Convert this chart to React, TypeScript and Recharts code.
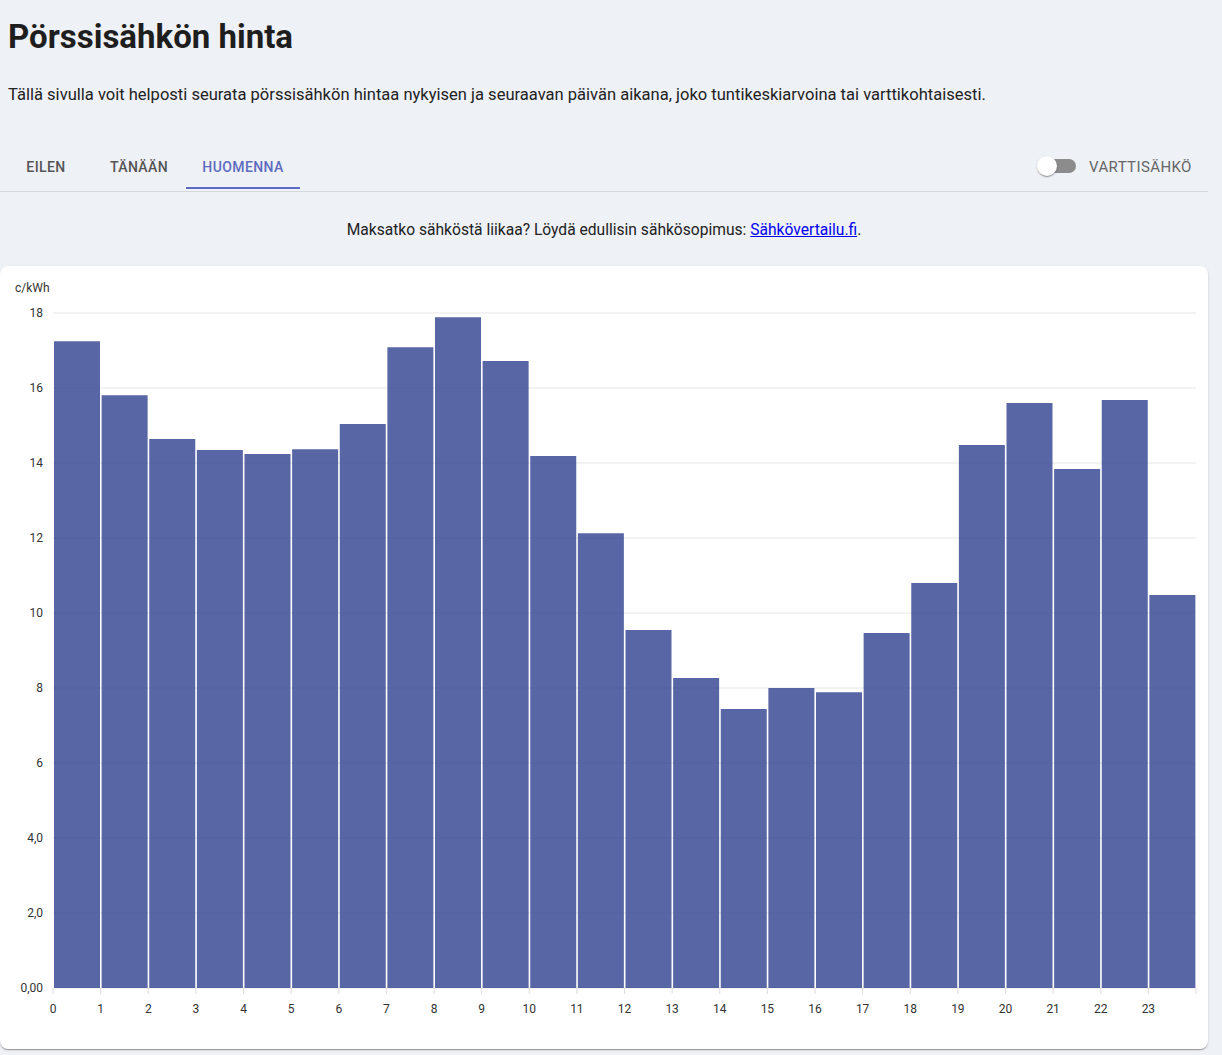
import { BarChart, Bar, XAxis, YAxis, CartesianGrid } from "recharts";

const hours = [0, 1, 2, 3, 4, 5, 6, 7, 8, 9, 10, 11, 12, 13, 14, 15, 16, 17, 18, 19, 20, 21, 22, 23];
const prices = [17.25, 15.81, 14.64, 14.35, 14.24, 14.37, 15.04, 17.09, 17.89, 16.72, 14.19, 12.13, 9.55, 8.27, 7.44, 8.0, 7.89, 9.47, 10.8, 14.48, 15.6, 13.84, 15.68, 10.48];
const yTicks = [0, 2, 4, 6, 8, 10, 12, 14, 16, 18];
const xTicks = [0, 1, 2, 3, 4, 5, 6, 7, 8, 9, 10, 11, 12, 13, 14, 15, 16, 17, 18, 19, 20, 21, 22, 23, 24];
const tabs = ["EILEN", "TÄNÄÄN", "HUOMENNA"];

// each hourly bar sits in the middle of its hour slot
const data = hours.map((h, i) => ({ hour: h, mid: h + 0.5, price: prices[i] }));

const formatY = (v: number) => {
  if (v === 0) return "0,00";
  if (v < 6) return v.toFixed(1).replace(".", ",");
  return String(v);
};

const tabWidths = [92, 94, 114];
const shadow = "0 2px 1px -1px rgba(0,0,0,0.2), 0 1px 1px 0 rgba(0,0,0,0.14), 0 1px 3px 0 rgba(0,0,0,0.12)";

export default function App() {
  return (
    <div
      style={{
        position: "relative",
        width: 1222,
        height: 1055,
        background: "#eef1f6",
        fontFamily: "Roboto, sans-serif",
        overflow: "hidden",
      }}
    >
      <style>{`body{margin:0}`}</style>
      <div
        style={{
          position: "absolute",
          left: 8,
          top: 20,
          fontSize: 33,
          lineHeight: 1,
          fontWeight: 700,
          color: "#1e1e1e",
          whiteSpace: "nowrap",
        }}
      >
        Pörssisähkön hinta
      </div>
      <div
        style={{
          position: "absolute",
          left: 8,
          top: 87,
          fontSize: 16.55,
          lineHeight: 1,
          color: "#222",
          whiteSpace: "nowrap",
        }}
      >
        Tällä sivulla voit helposti seurata pörssisähkön hintaa nykyisen ja seuraavan päivän aikana, joko tuntikeskiarvoina tai varttikohtaisesti.
      </div>

      {/* tabs */}
      <div style={{ position: "absolute", left: 0, top: 141, display: "flex" }}>
        {tabs.map((t, i) => (
          <div
            key={t}
            style={{
              width: tabWidths[i],
              height: 48,
              paddingTop: 5,
              display: "flex",
              alignItems: "center",
              justifyContent: "center",
              fontSize: 14,
              fontWeight: 500,
              letterSpacing: "0.4px",
              color: i === 2 ? "#5c6bc0" : "#555",
              borderBottom: i === 2 ? "2px solid #5c6bc0" : "2px solid transparent",
              boxSizing: "border-box",
            }}
          >
            {t}
          </div>
        ))}
      </div>
      <div style={{ position: "absolute", left: 0, top: 191, width: 1208, height: 1, background: "#d4d6da" }} />

      {/* switch */}
      <div
        style={{
          position: "absolute",
          left: 1040,
          top: 159,
          width: 36,
          height: 14,
          borderRadius: 7,
          background: "#8c8c8c",
        }}
      />
      <div
        style={{
          position: "absolute",
          left: 1037,
          top: 156,
          width: 20,
          height: 20,
          borderRadius: 10,
          background: "#fff",
          boxShadow: shadow,
        }}
      />
      <div
        style={{
          position: "absolute",
          left: 1089,
          top: 160,
          fontSize: 15,
          lineHeight: 1,
          letterSpacing: "0.4px",
          color: "#666",
          whiteSpace: "nowrap",
        }}
      >
        VARTTISÄHKÖ
      </div>

      <div
        style={{
          position: "absolute",
          left: 0,
          width: 1208,
          top: 223,
          textAlign: "center",
          fontSize: 15.6,
          lineHeight: 1,
          color: "#222",
        }}
      >
        Maksatko sähköstä liikaa? Löydä edullisin sähkösopimus:{" "}
        <a href="#" style={{ color: "#0000ee" }}>
          Sähkövertailu.fi
        </a>
        .
      </div>

      {/* card */}
      <div
        style={{
          position: "absolute",
          left: 0,
          top: 266,
          width: 1208,
          height: 783,
          background: "#fff",
          borderRadius: 8,
          boxShadow: shadow,
        }}
      >
        <div style={{ position: "absolute", left: 15, top: 16, fontSize: 12, lineHeight: 1, color: "#333" }}>c/kWh</div>
        <BarChart
          width={1208}
          height={783}
          data={data}
          margin={{ top: 47, right: 12, bottom: 31, left: 0 }}
          barCategoryGap={1}
        >
          <CartesianGrid vertical={false} stroke="#e6e6e6" />
          <XAxis
            dataKey="mid"
            type="number"
            domain={[0, 24]}
            ticks={xTicks}
            allowDataOverflow
            axisLine={false}
            tickLine={{ stroke: "#dddddd" }}
            tickSize={6}
            tickMargin={10}
            tick={{ fontSize: 12, fill: "#333" }}
            tickFormatter={(v: number) => (v === 24 ? "" : String(v))}
            interval={0}
          />
          <YAxis
            width={53}
            domain={[0, 18]}
            ticks={yTicks}
            axisLine={false}
            tickLine={false}
            tickMargin={4}
            tick={{ fontSize: 12, fill: "#333" }}
            tickFormatter={formatY}
            interval={0}
          />
          <Bar dataKey="price" fill="#2e4090" fillOpacity={0.8} isAnimationActive={false} />
        </BarChart>
      </div>
    </div>
  );
}
